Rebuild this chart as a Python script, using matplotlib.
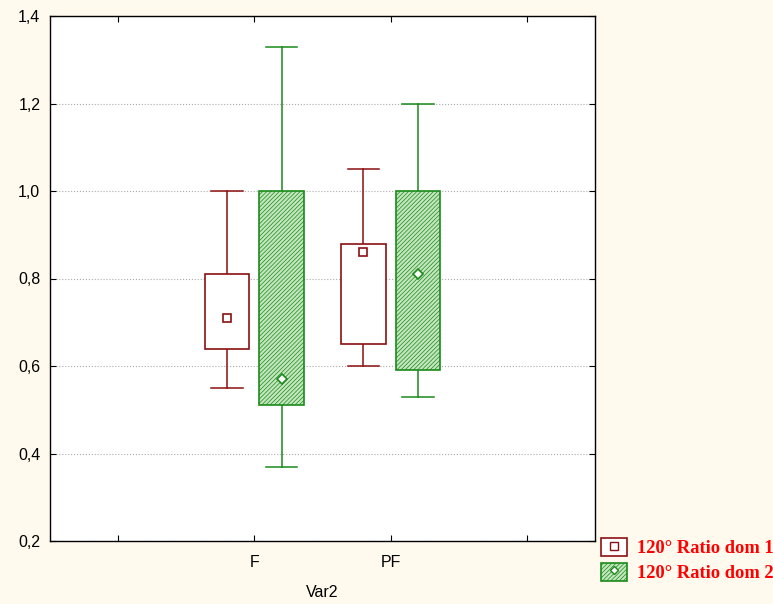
import matplotlib
matplotlib.use("Agg")
import matplotlib.pyplot as plt
from matplotlib.patches import Patch
from matplotlib.lines import Line2D
from matplotlib.legend_handler import HandlerTuple

categories = ["F", "PF"]
cat_pos = [1, 2]
series_names = ["120° Ratio dom 1", "120° Ratio dom 2"]
# per series: lists over categories
whisk_low = [[0.55, 0.60], [0.37, 0.53]]
box_low = [[0.64, 0.65], [0.51, 0.59]]
center = [[0.71, 0.86], [0.57, 0.81]]
box_high = [[0.81, 0.88], [1.00, 1.00]]
whisk_high = [[1.00, 1.05], [1.33, 1.20]]

bg = "#fff9ee"
red = "#8b1010"
green = "#1a8a1a"
plt.rcParams["hatch.linewidth"] = 0.5
plt.rcParams["font.family"] = ["Liberation Sans", "DejaVu Sans"]

fig = plt.figure(figsize=(7.73, 6.04), dpi=100, facecolor=bg)
ax = fig.add_axes([50/773, 1-541/604, 545/773, 525/604])
ax.set_facecolor("white")

offsets = [-0.2, 0.2]
width = 0.325
capw = 0.23
edge_cols = [red, green]
faces = ["white", "#c4e6be"]
hatches = [None, "////////"]
markers = ["s", "D"]
msizes = [6, 5]

for s in range(2):
    for i, xc in enumerate(cat_pos):
        x = xc + offsets[s]
        col = edge_cols[s]
        ax.plot([x, x], [whisk_low[s][i], box_low[s][i]], color=col, lw=1.1, zorder=2)
        ax.plot([x, x], [box_high[s][i], whisk_high[s][i]], color=col, lw=1.1, zorder=2)
        for yv in (whisk_low[s][i], whisk_high[s][i]):
            ax.plot([x - capw/2, x + capw/2], [yv, yv], color=col, lw=1.1, zorder=2)
        ax.bar(x, box_high[s][i] - box_low[s][i], bottom=box_low[s][i], width=width,
               facecolor=faces[s], edgecolor=col, hatch=hatches[s], lw=1.2, zorder=3)
        ax.plot([x], [center[s][i]], marker=markers[s], ms=msizes[s], mfc="white",
                mec=col, mew=1.2, ls="none", zorder=4)

ax.set_xlim(-0.5, 3.5)
ax.set_ylim(0.2, 1.4)
ax.set_xticks([0, 1, 2, 3])
ax.set_xticklabels(["", "F", "PF", ""])
ax.set_yticks([0.2, 0.4, 0.6, 0.8, 1.0, 1.2, 1.4])
ax.set_yticklabels([f"{v:.1f}".replace(".", ",") for v in [0.2, 0.4, 0.6, 0.8, 1.0, 1.2, 1.4]])
ax.tick_params(direction="in", top=True, right=True, labelsize=11.5, length=4)
ax.tick_params(axis="y", pad=7)
ax.tick_params(axis="x", pad=10)
ax.yaxis.grid(True, color="#aaaaaa", ls=":", lw=0.8)
ax.set_axisbelow(True)
for sp in ax.spines.values():
    sp.set_linewidth(1.0)
ax.set_xlabel("Var2", fontsize=11.5, labelpad=11)

handles = []
for s in range(2):
    p = Patch(facecolor=faces[s], edgecolor=edge_cols[s], hatch=hatches[s], lw=1.2)
    m = Line2D([], [], marker=markers[s], ms=msizes[s]-0.5, mfc="white", mec=edge_cols[s],
               mew=1.0, ls="none")
    handles.append((p, m))
leg = fig.legend(handles, series_names, loc="lower left",
                 bbox_to_anchor=(601/773, 1-582/604), frameon=False,
                 handler_map={tuple: HandlerTuple(ndivide=1)},
                 handlelength=1.4, handleheight=1.1, handletextpad=0.55,
                 labelspacing=0.3, borderpad=0.0, borderaxespad=0,
                 prop={"family": "Liberation Serif", "weight": "bold", "size": 13.3})
for t in leg.get_texts():
    t.set_color("#ff0000")

fig.savefig("out.png", dpi=100, facecolor=bg)
